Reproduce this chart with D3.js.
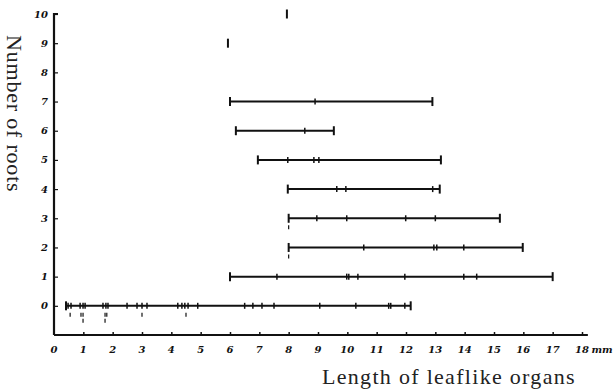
<!DOCTYPE html>
<html>
<head>
<meta charset="utf-8">
<script src="https://cdn.jsdelivr.net/npm/d3@7"></script>
<style>
  body { margin: 0; background: #fff; }
  svg { display: block; }
  .tick-label { font-family: "DejaVu Serif", serif; font-style: italic; font-weight: bold; font-size: 10px; fill: #111; }
  .title { font-family: "Liberation Serif", "DejaVu Serif", serif; font-size: 22px; fill: #222; }
</style>
</head>
<body>
<div id="chart"></div>
<script>
// length of leaflike organs (mm) for each number of roots
const roots0 = [0.41, 0.48, 0.58, 0.89, 0.99, 1.06, 1.67, 1.77, 1.84, 2.49, 2.83, 3.0, 3.17,
  4.22, 4.36, 4.46, 4.57, 4.9, 6.5, 6.78, 7.09, 7.5, 9.06, 10.29, 11.41, 11.48, 11.96, 12.16];
const roots1 = [6.0, 7.6, 9.98, 10.05, 10.36, 11.96, 13.97, 14.41, 17.0];
const roots2 = [8.0, 10.56, 12.95, 13.05, 13.97, 15.98];
const roots3 = [8.0, 8.96, 9.98, 11.99, 13.0, 15.2];
const roots4 = [7.97, 9.64, 9.95, 12.91, 13.15];
const roots5 = [6.95, 7.97, 8.86, 9.03, 13.19];
const roots6 = [6.2, 8.55, 9.54];
const roots7 = [6.0, 8.9, 12.9];
const roots9 = [5.93];
const roots10 = [7.94];

// repeated observations, drawn as small marks under the line
const extras0 = [0.55, 0.92, 0.99, 0.99, 1.74, 1.74, 1.8, 3.0, 4.5];
const extras2 = [8.0];
const extras3 = [8.0];

const xTicks = d3.range(0, 19);
const yTicks = d3.range(0, 11);

const rows = [
  { n: 0, lengths: roots0, extras: extras0 },
  { n: 1, lengths: roots1, extras: [] },
  { n: 2, lengths: roots2, extras: extras2 },
  { n: 3, lengths: roots3, extras: extras3 },
  { n: 4, lengths: roots4, extras: [] },
  { n: 5, lengths: roots5, extras: [] },
  { n: 6, lengths: roots6, extras: [] },
  { n: 7, lengths: roots7, extras: [] },
  { n: 9, lengths: roots9, extras: [] },
  { n: 10, lengths: roots10, extras: [] },
];

const width = 614;
const height = 392;
const ink = '#111';

const x = d3.scaleLinear().domain([0, 18]).range([54, 582]);
const y = d3.scaleLinear().domain([-1, 10]).range([335, 14]);

const svg = d3.select('#chart').append('svg')
  .attr('width', width)
  .attr('height', height);

// axes
const yAxis = d3.axisRight(y).tickValues(yTicks).tickSize(4).tickFormat('');
svg.append('g')
  .attr('transform', `translate(${x(0)},0)`)
  .call(yAxis)
  .call(g => g.select('.domain').attr('stroke', ink).attr('stroke-width', 2.2).attr('d', `M4,${y(10)}H0V${y(-1)}`))
  .call(g => g.selectAll('.tick line').attr('stroke', ink).attr('stroke-width', 1.2));

const xAxis = d3.axisTop(x).tickValues(xTicks.slice(1)).tickSize(3).tickFormat('');
svg.append('g')
  .attr('transform', `translate(0,${y(-1)})`)
  .call(xAxis)
  .call(g => g.select('.domain').attr('stroke', ink).attr('stroke-width', 2).attr('d', `M${x(0)},0H${x(18.2)}`))
  .call(g => g.selectAll('.tick line').attr('stroke', ink).attr('stroke-width', 1.5));

svg.append('g').selectAll('text')
  .data(yTicks)
  .join('text')
  .attr('class', 'tick-label')
  .attr('x', x(0) - 6)
  .attr('y', d => y(d) + 3.5)
  .attr('text-anchor', 'end')
  .text(d => d);

svg.append('g').selectAll('text')
  .data(xTicks)
  .join('text')
  .attr('class', 'tick-label')
  .attr('x', d => x(d))
  .attr('y', y(-1) + 18)
  .attr('text-anchor', 'middle')
  .text(d => d);

svg.append('text')
  .attr('class', 'tick-label')
  .attr('x', x(18) + 20)
  .attr('y', y(-1) + 18)
  .attr('text-anchor', 'middle')
  .text('mm');

// ranges
const row = svg.append('g').selectAll('g')
  .data(rows)
  .join('g')
  .attr('transform', d => `translate(0,${y(d.n)})`);

row.filter(d => d.lengths.length > 1)
  .append('line')
  .attr('x1', d => x(d3.min(d.lengths)))
  .attr('x2', d => x(d3.max(d.lengths)))
  .attr('stroke', ink)
  .attr('stroke-width', 2);

row.selectAll('line.obs')
  .data(d => d.lengths.map((v, i) => ({ v, end: i === 0 || i === d.lengths.length - 1 })))
  .join('line')
  .attr('class', 'obs')
  .attr('x1', d => x(d.v))
  .attr('x2', d => x(d.v))
  .attr('y1', d => d.end ? -4.5 : -3)
  .attr('y2', d => d.end ? 4.5 : 3)
  .attr('stroke', ink)
  .attr('stroke-width', d => d.end ? 2 : 1.5);

row.selectAll('line.extra')
  .data(d => {
    const seen = new Map();
    return d.extras.map(v => {
      const level = (seen.get(v) || 0) + 1;
      seen.set(v, level);
      return { v, level };
    });
  })
  .join('line')
  .attr('class', 'extra')
  .attr('x1', d => x(d.v))
  .attr('x2', d => x(d.v))
  .attr('y1', d => 3 + d.level * 6 - 2)
  .attr('y2', d => 3 + d.level * 6 + 2)
  .attr('stroke', ink)
  .attr('stroke-width', 1.2);

// titles
svg.append('text')
  .attr('class', 'title')
  .attr('x', 322)
  .attr('y', 384)
  .attr('letter-spacing', 1.3)
  .text('Length of leaflike organs');

svg.append('text')
  .attr('class', 'title')
  .attr('transform', 'translate(7,35) rotate(90)')
  .attr('letter-spacing', 0.8)
  .text('Number of roots');
</script>
</body>
</html>
